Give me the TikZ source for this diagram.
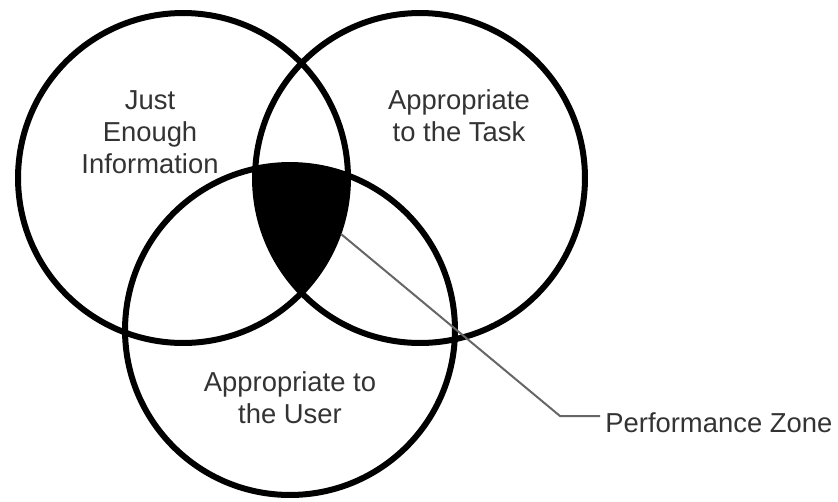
\documentclass[tikz,border=0pt]{standalone}
\usepackage{fontspec}
\setmainfont{Liberation Sans}
\usepackage{tikz}

\begin{document}
\begin{tikzpicture}[x=0.02cm,y=-0.02cm,
  every node/.style={align=center,text=black!80,font=\fontsize{15.6}{18.3}\selectfont},
  ring/.style={draw=black,line width=0.12cm},
  leader/.style={draw=black!60,line width=0.04cm}]
\useasboundingbox (0,0) rectangle (838,501);
\coordinate (info) at (183,178);
\coordinate (task) at (420,178);
\coordinate (user) at (290,330);

\begin{scope}
\clip (info) circle [radius=3.3cm];
\clip (task) circle [radius=3.3cm];
\fill[black] (user) circle [radius=3.3cm];
\end{scope}

\draw[ring] (info) circle [radius=3.3cm];
\draw[ring] (task) circle [radius=3.3cm];
\draw[ring] (user) circle [radius=3.3cm];

\node (infotext) at (150,132) {Just\\Enough\\Information};
\node (tasktext) at (459,116) {Appropriate\\to the Task};
\node (usertext) at (290,398) {Appropriate to\\the User};
\node (perf)[anchor=base west,inner sep=0] at (605,432) {Performance Zone};

\coordinate (pz) at (341,234);
\coordinate (bend) at (560,416);
\draw[leader] (pz) -- (bend) -- ([xshift=-0.1cm]bend -| perf.west);
\end{tikzpicture}
\end{document}
